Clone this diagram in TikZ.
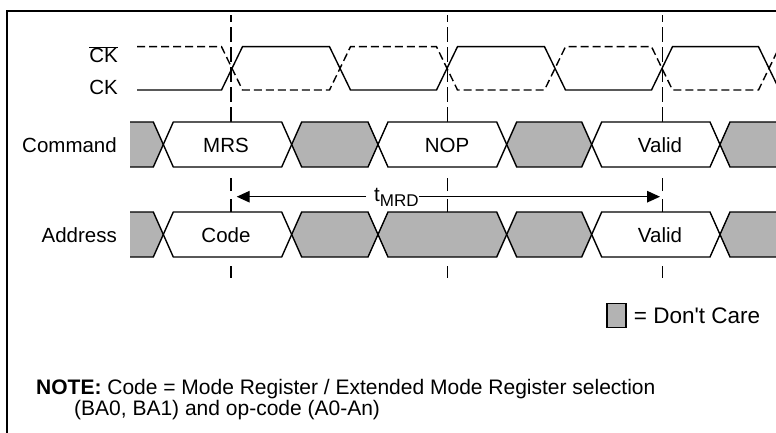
\documentclass[tikz,border=0pt]{standalone}
\usepackage{fontspec}
\setmainfont{Liberation Sans}
\usetikzlibrary{arrows.meta}
\definecolor{dcgray}{RGB}{179,179,179}
\tikzset{
  sig/.style={line width=1.4pt, line join=miter},
  clkbar/.style={sig, dash pattern=on 8pt off 4pt},
  marker/.style={line width=1.6pt, dash pattern=on 15pt off 5pt},
  dcseg/.style={sig, fill=dcgray},
  valseg/.style={sig, fill=white},
  lbl/.style={font=\fontsize{20.5}{24}\selectfont, inner sep=0pt},
  notetxt/.style={font=\fontsize{21}{24}\selectfont, inner sep=0pt, anchor=base west},
  timearrow/.style={line width=1.4pt, -{Triangle[length=13pt,width=11.5pt]}},
  frameline/.style={line width=2.2pt},
}
\begin{document}
\begin{tikzpicture}[x=1pt,y=-1pt]
\useasboundingbox (0,0) rectangle (776,433);
% frame
\draw[frameline] (7,433) -- (7,11) -- (777,11);
% clock
\draw[sig] (137,90) -- (221.5,90) -- (242.5,46.7) -- (329.5,46.7) -- (350.5,90) -- (436.5,90) -- (457.5,46.7) -- (544.5,46.7) -- (565.5,90) -- (651.5,90) -- (672.5,46.7) -- (758.5,46.7) -- (779.5,90);
\draw[clkbar] (137,46.7) -- (221.5,46.7) -- (242.5,90) -- (329.5,90) -- (350.5,46.7) -- (436.5,46.7) -- (457.5,90) -- (544.5,90) -- (565.5,46.7) -- (651.5,46.7) -- (672.5,90) -- (758.5,90) -- (779.5,46.7);
\node[lbl, anchor=base east] (ckbar) at (118,62.5) {$\overline{\hbox{CK}}$};
\node[lbl, anchor=base east] (ck) at (118,95) {CK};
% markers
\foreach \x in {231,447.5,662.5} {
  \draw[marker] (\x,122) -- (\x,15);
  \draw[marker, dash pattern=on 13pt off 8pt] (\x,212) -- (\x,177);
  \draw[marker] (\x,266) -- (\x,278);
}
% command bus
\node[lbl, anchor=base east] (cmd) at (117,152) {Command};
\fill[dcgray] (130,122) -- (153.3,122) -- (163.3,144.5) -- (153.3,167) -- (130,167) -- cycle;
\draw[sig] (130,122) -- (153.3,122) -- (163.3,144.5) -- (153.3,167) -- (130,167);
\foreach \a/\b/\s in {163.3/291.7/valseg, 291.7/378/dcseg, 378/506.7/valseg, 506.7/591.7/dcseg, 591.7/720/valseg}
  \draw[\s] (\a,144.5) -- (\a+10,122) -- (\b-10,122) -- (\b,144.5) -- (\b-10,167) -- (\a+10,167) -- cycle;
\fill[dcgray] (730,122) -- (720,144.5) -- (730,167) -- (777,167) -- (777,122) -- cycle;
\draw[sig] (777,122) -- (730,122) -- (720,144.5) -- (730,167) -- (777,167);
\node[lbl, anchor=base] (mrs) at (226,152) {MRS};
\node[lbl, anchor=base] (nop) at (447,152) {NOP};
\node[lbl, anchor=base] (valc) at (660,152) {Valid};
% address bus
\node[lbl, anchor=base east] (addr) at (117,242.5) {Address};
\fill[dcgray] (130,212) -- (153.3,212) -- (163.3,234.5) -- (153.3,257) -- (130,257) -- cycle;
\draw[sig] (130,212) -- (153.3,212) -- (163.3,234.5) -- (153.3,257) -- (130,257);
\foreach \a/\b/\s in {163.3/291.7/valseg, 291.7/378/dcseg, 378/506.7/dcseg, 506.7/591.7/dcseg, 591.7/720/valseg}
  \draw[\s] (\a,234.5) -- (\a+10,212) -- (\b-10,212) -- (\b,234.5) -- (\b-10,257) -- (\a+10,257) -- cycle;
\fill[dcgray] (730,212) -- (720,234.5) -- (730,257) -- (777,257) -- (777,212) -- cycle;
\draw[sig] (777,212) -- (730,212) -- (720,234.5) -- (730,257) -- (777,257);
\node[lbl, anchor=base] (code) at (226,242.5) {Code};
\node[lbl, anchor=base] (vala) at (660,242.5) {Valid};
% tMRD
\node[lbl, anchor=base west] (tmrd) at (374,201.5) {t\raisebox{-5pt}{\fontsize{17}{20}\selectfont MRD}};
\coordinate (tl) at (236.7,196.7);
\coordinate (tr) at (660,196.7);
\draw[timearrow] ([xshift=-8pt]tmrd.west |- tl) -- (tl);
\draw[timearrow] ([xshift=0.5pt]tmrd.east |- tr) -- (tr);
% legend
\node[draw, line width=1.4pt, fill=dcgray, minimum width=19pt, minimum height=24pt, inner sep=0pt] (dcbox) at (616.5,315.5) {};
\node[font=\fontsize{22.5}{26}\selectfont, inner sep=0pt, anchor=base west] (dctext) at ([xshift=7pt]dcbox.east |- 0,323.5) {= Don\textquotesingle t Care};
% note
\node[notetxt] (note1) at (36,394) {\textbf{NOTE:} Code = Mode Register / Extended Mode Register selection};
\node[notetxt] (note2) at (74,415) {(BA0, BA1) and op-code (A0-An)};
\end{tikzpicture}
\end{document}
